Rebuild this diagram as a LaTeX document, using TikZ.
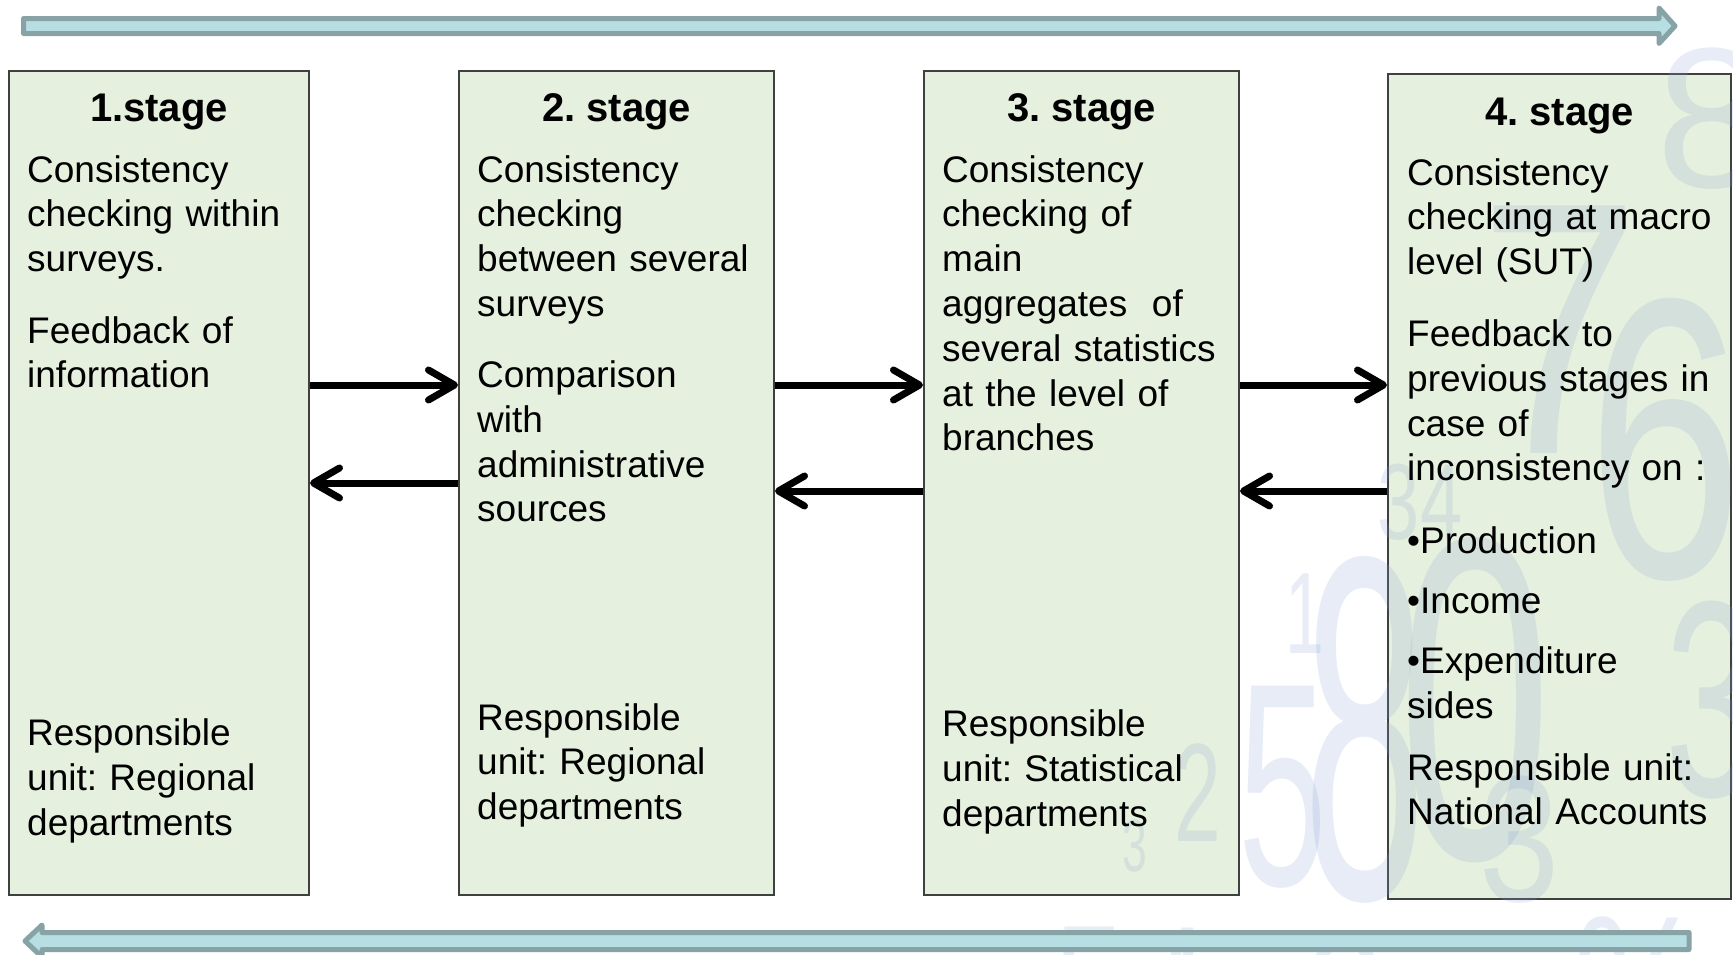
\documentclass[tikz,border=0pt]{standalone}
\usepackage{fontspec}
\setmainfont{Liberation Sans}
\usetikzlibrary{arrows.meta}
\definecolor{boxfill}{RGB}{230,240,222}
\definecolor{boxline}{RGB}{64,64,64}
\definecolor{bigfill}{RGB}{183,222,227}
\definecolor{bigline}{RGB}{135,163,165}
\definecolor{wm}{RGB}{135,163,211}
\frenchspacing
\tikzset{
  stagebox/.style={draw=boxline, line width=2pt, fill=boxfill, inner sep=0pt},
  ttl/.style={font=\fontsize{40}{48}\selectfont\bfseries\frenchspacing, inner sep=0pt, anchor=base},
  para/.style={font=\fontsize{37}{44.8}\selectfont\frenchspacing, text width=322pt, align=left, inner sep=0pt, anchor=base west},
  conn/.style={line width=7pt, -{Straight Barb[length=26pt,width=30pt,round]}},
  bigarrow/.style={draw=bigline, fill=bigfill, line width=5pt, line join=round},
  wmark/.style={text=wm, text opacity=0.2, inner sep=0pt},
}
\begin{document}
\begin{tikzpicture}[x=1pt,y=-1pt]
\useasboundingbox (0,0) rectangle (1733,954);
\fill[white] (0,0) rectangle (1733,954);
% stage boxes
\node[stagebox, minimum width=300pt, minimum height=824pt] (b1) at (159,483) {};
\node[stagebox, minimum width=315pt, minimum height=824pt] (b2) at (616.5,483) {};
\node[stagebox, minimum width=315pt, minimum height=824pt] (b3) at (1081.5,483) {};
\node[stagebox, minimum width=343pt, minimum height=825pt] (b4) at (1559.5,486.5) {};
% faint background digits
\begin{scope}
\clip (0,0) rectangle (1733,954);
\node[wmark, font=\fontsize{200}{200}\selectfont] (w1) at (1712,119) {8};
\node[wmark, font=\fontsize{360}{360}\selectfont, xscale=0.8] (w2) at (1560,330) {7};
\node[wmark, font=\fontsize{400}{400}\selectfont, xscale=0.7] (w3) at (1665,440) {6};
\node[wmark, font=\fontsize{460}{460}\selectfont, xscale=0.6] (w4) at (1475,700) {0};
\node[wmark, font=\fontsize{490}{490}\selectfont, xscale=0.45] (w5) at (1365,730) {8};
\node[wmark, font=\fontsize{290}{290}\selectfont, xscale=0.55] (w6) at (1283,787) {5};
\node[wmark, font=\fontsize{140}{140}\selectfont, xscale=0.6] (w7) at (1198,793) {2};
\node[wmark, font=\fontsize{74}{74}\selectfont, xscale=0.6] (w8) at (1135,846) {3};
\node[wmark, font=\fontsize{116}{116}\selectfont, xscale=0.6] (w9) at (1305,614) {1};
\node[wmark, font=\fontsize{180}{180}\selectfont, xscale=0.8] (w10) at (1520,840) {3};
\node[wmark, font=\fontsize{108}{108}\selectfont, xscale=0.7] (w11) at (1420,502) {34};
\node[wmark, font=\fontsize{280}{280}\selectfont, xscale=0.6] (w12) at (1712,700) {3};
\node[wmark, font=\fontsize{210}{210}\selectfont, xscale=0.6] (w13) at (1090,1000) {5};
\node[wmark, font=\fontsize{210}{210}\selectfont, xscale=0.6] (w14) at (1175,1000) {4};
\node[wmark, font=\fontsize{210}{210}\selectfont, xscale=0.7] (w15) at (1345,1005) {0};
\node[wmark, font=\fontsize{210}{210}\selectfont, xscale=0.7] (w16) at (1640,990) {\%};
\end{scope}
% big process arrows
\draw[bigarrow] (23.5,18.5) -- (1659,18.5) -- (1659,8) -- (1675,26) -- (1659,43.5) -- (1659,33.5) -- (23.5,33.5) -- cycle;
\draw[bigarrow] (1689,932.5) -- (42,932.5) -- (42,925) -- (25,941) -- (42,957) -- (42,949.5) -- (1689,949.5) -- cycle;
% titles
\node[ttl] (h1) at (159,121.5) {1.stage};
\node[ttl] (h2) at (616.5,121.5) {2. stage};
\node[ttl] (h3) at (1081.5,121.5) {3. stage};
\node[ttl] (h4) at (1559.5,125) {4. stage};
% texts
\node[para] (t1a) at (27,182) {Consistency\\checking within\\surveys.};
\node[para] (t1b) at (27,343) {Feedback of\\information};
\node[para] (t1c) at (27,745.5) {Responsible\\unit: Regional\\departments};
\node[para] (t2a) at (477,182) {Consistency\\checking\\between several\\surveys};
\node[para] (t2b) at (477,387.5) {Comparison\\with\\administrative\\sources};
\node[para] (t2c) at (477,730) {Responsible\\unit: Regional\\departments};
\node[para] (t3a) at (942,182) {Consistency\\checking of\\main\\aggregates\ \ of\\several statistics\\at the level of\\branches};
\node[para] (t3b) at (942,736.5) {Responsible\\unit: Statistical\\departments};
\node[para] (t4a) at (1407,185) {Consistency\\checking at macro\\level (SUT)};
\node[para] (t4b) at (1407,346.5) {Feedback to\\previous stages in\\case of\\inconsistency on :};
\node[para] (t4c) at (1407,553) {•Production};
\node[para] (t4d) at (1407,613) {•Income};
\node[para] (t4e) at (1407,673.5) {•Expenditure\\sides};
\node[para] (t4f) at (1407,780) {Responsible unit:\\National Accounts};
% connectors
\draw[conn] (b1.east |- 0,385) -- (b2.west |- 0,385);
\draw[conn] (b2.west |- 0,483) -- (b1.east |- 0,483);
\draw[conn] (b2.east |- 0,385) -- (b3.west |- 0,385);
\draw[conn] (b3.west |- 0,491) -- (b2.east |- 0,491);
\draw[conn] (b3.east |- 0,385) -- (b4.west |- 0,385);
\draw[conn] (b4.west |- 0,491) -- (b3.east |- 0,491);
\end{tikzpicture}
\end{document}
